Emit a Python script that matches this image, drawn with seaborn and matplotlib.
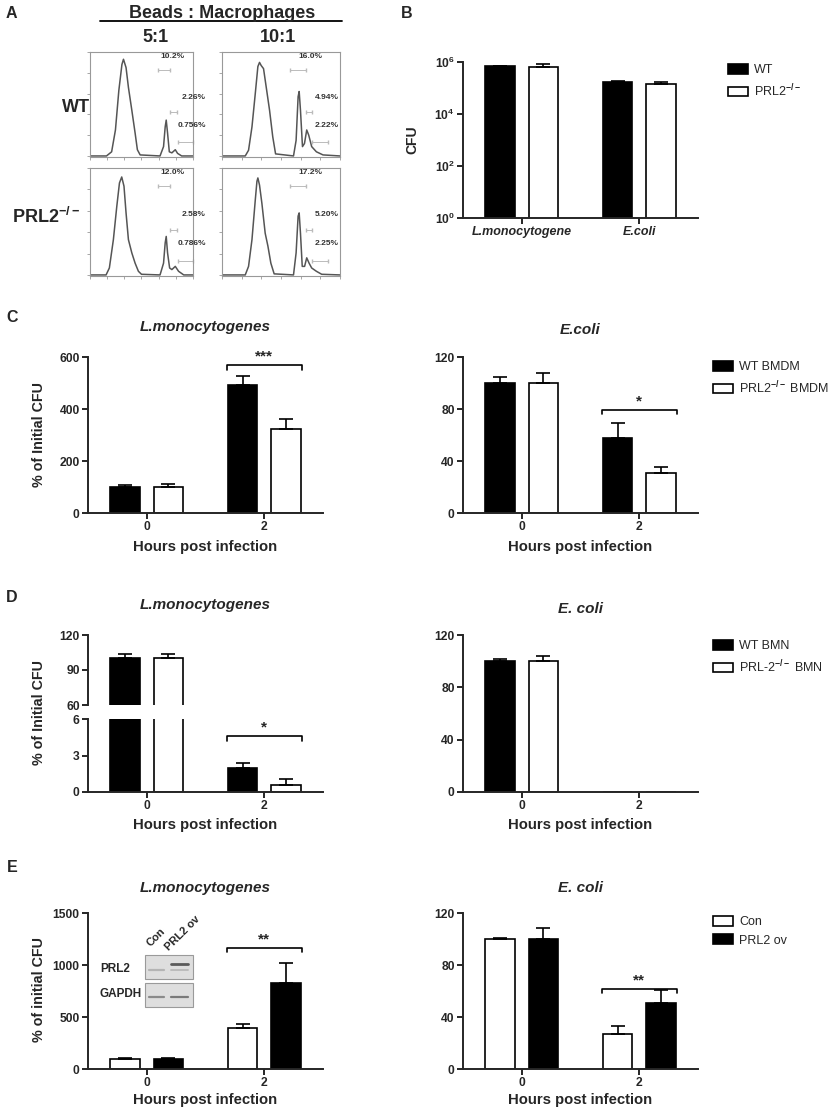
import numpy as np
import pandas as pd
import matplotlib
matplotlib.use("Agg")
import matplotlib.pyplot as plt
from matplotlib.patches import Patch, Rectangle
from matplotlib.lines import Line2D
import seaborn as sns

# A: flow histograms, x = channel (% of box width), y = events (% of box height)
a_wt5_x = [0, 16, 21, 24.7, 28, 31, 32.5, 35, 37.3, 40.6, 43.8, 46, 48.7, 68, 71.4, 73, 74, 75.3, 77, 79.5, 82.8, 85, 89, 100]
a_wt5_y = [0, 0, 4, 25, 63, 88, 93, 85, 66, 44, 22, 6, 1, 0, 9, 28, 34.5, 22, 4, 3, 6, 2.5, 0, 0]
a_wt10_x = [0, 19.7, 22.5, 25.4, 28.2, 30.4, 31.8, 33.2, 35.2, 37.5, 40.3, 43, 45.4, 60.6, 62.8, 64.5, 65.4, 66.5, 68.2, 69.9, 71.8, 73.5, 76, 80, 85.6, 100]
a_wt10_y = [0, 0, 5.5, 28, 60, 86, 90, 87, 84, 66, 44, 18.5, 2, 0, 15, 57, 62, 44, 9, 12, 25, 20, 9, 4, 1, 0]
a_ko5_x = [0, 15.6, 18.8, 22.7, 26, 28.6, 30.8, 33, 35, 37.3, 40.6, 43.8, 47, 50, 68, 71.4, 73, 74, 75.3, 77.3, 79.5, 82.8, 86, 91, 100]
a_ko5_y = [0, 0, 6.5, 33, 64, 86, 91.6, 83, 58, 33, 20.6, 11, 3.4, 0.6, 0, 11, 30, 36, 20.6, 6.5, 5, 8, 3.4, 0, 0]
a_ko10_x = [0, 19.7, 22.5, 25.4, 28.2, 29.6, 30.4, 31.8, 33.8, 36.6, 38.9, 41.4, 44.2, 60.6, 62.8, 64.5, 65.4, 66.5, 68, 70, 71.8, 73.8, 76, 80, 84.5, 100]
a_ko10_y = [0, 0, 8, 33, 70, 87.5, 90.7, 84, 67, 39, 27, 11, 1, 0, 20.6, 55, 58, 39, 8, 8, 16, 11, 6.5, 3.4, 0.6, 0]
a_wt5_pct = ["10.2%", "2.26%", "0.756%"]
a_wt10_pct = ["16.0%", "4.94%", "2.22%"]
a_ko5_pct = ["12.0%", "2.58%", "0.786%"]
a_ko10_pct = ["17.2%", "5.20%", "2.25%"]

# B: CFU
b_species = ["L.monocytogene", "E.coli"]
b_wt = [7.0e5, 1.75e5]
b_wt_err = [2.0e4, 1.5e4]
b_ko = [6.5e5, 1.4e5]
b_ko_err = [1.8e5, 2.6e4]

hours = ["0", "2"]
# C: BMDM
c_lm_wt = [100, 492]
c_lm_wt_err = [8, 35]
c_lm_ko = [100, 323]
c_lm_ko_err = [10, 38]
c_ec_wt = [100, 58]
c_ec_wt_err = [5, 11]
c_ec_ko = [100, 31]
c_ec_ko_err = [8, 4.5]
# D: BMN
d_lm_wt = [100, 2.0]
d_lm_wt_err = [4, 0.4]
d_lm_ko = [100, 0.6]
d_lm_ko_err = [4, 0.5]
d_ec_wt = [100, 0]
d_ec_wt_err = [2, 0]
d_ec_ko = [100, 0]
d_ec_ko_err = [4, 0]
# E: overexpression
e_lm_con = [100, 391]
e_lm_con_err = [10, 40]
e_lm_ov = [100, 824]
e_lm_ov_err = [3, 200]
e_ec_con = [100, 27]
e_ec_con_err = [1, 6]
e_ec_ov = [100, 51]
e_ec_ov_err = [8.5, 10]

sns.set_style("ticks")
plt.rcParams["font.family"] = ["Liberation Sans", "DejaVu Sans"]
plt.rcParams["font.weight"] = "bold"
plt.rcParams["mathtext.fontset"] = "custom"
plt.rcParams["mathtext.rm"] = "Liberation Sans"
plt.rcParams["mathtext.bf"] = "Liberation Sans:bold"
plt.rcParams["mathtext.it"] = "Liberation Sans:italic"

W, H = 829, 1114
fig = plt.figure(figsize=(W / 100, H / 100), dpi=100)


def px_axes(x0, y0, x1, y1):
    return fig.add_axes([x0 / W, 1 - y1 / H, (x1 - x0) / W, (y1 - y0) / H])


def ftext(x, y, s, **kw):
    kw.setdefault("ha", "center")
    kw.setdefault("va", "center")
    fig.text(x / W, 1 - y / H, s, **kw)


def grouped(ax, cats, names, series, errs, colors):
    df = pd.DataFrame({
        "cat": [c for _ in names for c in cats],
        "grp": [n for n in names for _ in cats],
        "val": [v for s in series for v in s],
    })
    sns.barplot(data=df, x="cat", y="val", hue="grp", order=cats, hue_order=names,
                palette=dict(zip(names, colors)), saturation=1, edgecolor="black",
                linewidth=1.2, width=0.74, gap=0.32, errorbar=None, legend=False, ax=ax)
    conts = list(ax.containers[:len(names)])
    for cont, err in zip(conts, errs):
        for bar, e in zip(cont, err):
            if e > 0:
                xc = bar.get_x() + bar.get_width() / 2
                ax.errorbar([xc], [bar.get_height()], yerr=[[0], [e]], fmt="none",
                            ecolor="black", elinewidth=1.2, capsize=5, capthick=1.2)
    return conts


def style(ax, ylim, yticks):
    ax.set_xlim(-0.5, 1.5)
    ax.set_ylim(*ylim)
    ax.set_yticks(yticks)
    ax.set_xlabel("")
    ax.set_ylabel("")
    sns.despine(ax=ax)
    for s in ("left", "bottom"):
        ax.spines[s].set_linewidth(1.4)
    ax.tick_params(width=1.4, length=4, labelsize=8.7, pad=2)


def bracket(ax, conts, i, y, drop, label):
    a, b = conts[0][i], conts[1][i]
    x0 = a.get_x() - 0.01
    x1 = b.get_x() + b.get_width() + 0.01
    ax.plot([x0, x0, x1, x1], [y - drop, y, y, y - drop], color="black", lw=1.2, clip_on=False)
    ax.annotate(label, xy=((x0 + x1) / 2, y), xytext=(0, 1), textcoords="offset points",
                ha="center", va="bottom", fontsize=11)


def legend(x, y, names, colors):
    handles = [Patch(facecolor=c, edgecolor="black", linewidth=1.2, label=n) for n, c in zip(names, colors)]
    fig.legend(handles=handles, loc="upper left", bbox_to_anchor=(x / W, 1 - y / H), frameon=False,
               prop={"weight": "normal", "size": 9}, handlelength=1.6, handleheight=0.8,
               handletextpad=0.5, labelspacing=0.5, borderpad=0, borderaxespad=0)


# ---------- A ----------
hist_boxes = [(90, 52, 193, 157), (222, 52, 340, 157), (90, 168, 193, 276), (222, 168, 340, 276)]
curves = [(a_wt5_x, a_wt5_y), (a_wt10_x, a_wt10_y), (a_ko5_x, a_ko5_y), (a_ko10_x, a_ko10_y)]
pcts = [a_wt5_pct, a_wt10_pct, a_ko5_pct, a_ko10_pct]
label_pos = [[(0.80, 0.96), (1.01, 0.57), (0.985, 0.30)], [(0.75, 0.96), (0.89, 0.57), (0.89, 0.30)]]
gate_pos = [[(0.66, 0.78, 0.83), (0.78, 0.84, 0.43), (0.85, 1.0, 0.14)],
            [(0.58, 0.71, 0.83), (0.71, 0.76, 0.43), (0.76, 0.90, 0.14)]]
for k, (box, (cx, cy), pct) in enumerate(zip(hist_boxes, curves, pcts)):
    ax = px_axes(*box)
    sns.lineplot(x=cx, y=cy, sort=False, estimator=None, color="#555555", linewidth=1.1, ax=ax)
    ax.set_xlim(0, 100)
    ax.set_ylim(-1, 100)
    ax.set_xticks(np.linspace(0, 100, 7))
    ax.set_yticks(np.linspace(0, 100, 6))
    ax.set_xticklabels([])
    ax.set_yticklabels([])
    ax.tick_params(length=2, width=0.6, color="#999999")
    for s in ax.spines.values():
        s.set_color("#999999")
        s.set_linewidth(0.8)
    col = k % 2
    for (tx, ty), t in zip(label_pos[col], pct):
        ax.text(tx, ty, t, transform=ax.transAxes, ha="center", va="center", fontsize=6,
                color="#333333", clip_on=False)
    for gx0, gx1, gy in gate_pos[col]:
        ax.plot([gx0, gx1], [gy, gy], transform=ax.transAxes, color="#bbbbbb", lw=0.7,
                marker="|", ms=3, clip_on=False)

ftext(222, 13, "Beads : Macrophages", fontsize=13)
fig.add_artist(Line2D([100 / W, 342 / W], [1 - 21 / H, 1 - 21 / H], color="black", lw=1.3))
ftext(156, 37, "5:1", fontsize=13)
ftext(278, 37, "10:1", fontsize=13)
ftext(76, 108, "WT", fontsize=13)
ftext(46, 217, r"PRL2$^{\mathbf{-/-}}$", fontsize=13)

for lab, lx, ly in [("A", 11, 13), ("B", 407, 13), ("C", 12, 317), ("D", 12, 597), ("E", 12, 868)]:
    ftext(lx, ly, lab, fontsize=11.5)

# ---------- B ----------
axb = px_axes(463, 62, 698, 218)
grouped(axb, b_species, ["WT", "PRL2"], [b_wt, b_ko], [b_wt_err, b_ko_err], ["black", "white"])
axb.set_yscale("log")
style(axb, (1, 1e6), [1, 1e2, 1e4, 1e6])
axb.minorticks_off()
axb.set_yticklabels([r"$\mathbf{10^{0}}$", r"$\mathbf{10^{2}}$", r"$\mathbf{10^{4}}$", r"$\mathbf{10^{6}}$"])
for l in axb.get_xticklabels():
    l.set_style("italic")
    l.set_fontsize(9)
ftext(412, 140, "CFU", rotation=90, fontsize=10)
legend(728, 64, ["WT", "PRL2$^{-/-}$"], ["black", "white"])

# ---------- C ----------
ax = px_axes(88, 357, 323, 513)
conts = grouped(ax, hours, ["WT", "KO"], [c_lm_wt, c_lm_ko], [c_lm_wt_err, c_lm_ko_err], ["black", "white"])
style(ax, (0, 600), [0, 200, 400, 600])
bracket(ax, conts, 1, 569, 19, "***")
ftext(205.5, 327, "L.monocytogenes", style="italic", fontsize=11)
ftext(39, 435, "% of Initial CFU", rotation=90, fontsize=10.3)
ftext(205.5, 547, "Hours post infection", fontsize=10.7)

ax = px_axes(463, 357, 698, 513)
conts = grouped(ax, hours, ["WT", "KO"], [c_ec_wt, c_ec_ko], [c_ec_wt_err, c_ec_ko_err], ["black", "white"])
style(ax, (0, 120), [0, 40, 80, 120])
bracket(ax, conts, 1, 79, 3, "*")
ftext(580.5, 330, "E.coli", style="italic", fontsize=11)
ftext(580.5, 547, "Hours post infection", fontsize=10.7)
legend(713, 361, ["WT BMDM", "PRL2$^{-/-}$ BMDM"], ["black", "white"])

# ---------- D ----------
ax_top = px_axes(88, 635, 323, 705)
grouped(ax_top, hours, ["WT", "KO"], [d_lm_wt, d_lm_ko], [d_lm_wt_err, d_lm_ko_err], ["black", "white"])
style(ax_top, (60, 120), [60, 90, 120])
ax_top.spines["bottom"].set_visible(False)
ax_top.tick_params(bottom=False, labelbottom=False)
ax_bot = px_axes(88, 719, 323, 792)
conts = grouped(ax_bot, hours, ["WT", "KO"], [d_lm_wt, d_lm_ko], [d_lm_wt_err, d_lm_ko_err], ["black", "white"])
style(ax_bot, (0, 6), [0, 3, 6])
bracket(ax_bot, conts, 1, 4.6, 0.42, "*")
ftext(205.5, 605, "L.monocytogenes", style="italic", fontsize=11)
ftext(39, 713, "% of Initial CFU", rotation=90, fontsize=10.3)
ftext(205.5, 825, "Hours post infection", fontsize=10.7)

ax = px_axes(463, 635, 698, 792)
grouped(ax, hours, ["WT", "KO"], [d_ec_wt, d_ec_ko], [d_ec_wt_err, d_ec_ko_err], ["black", "white"])
style(ax, (0, 120), [0, 40, 80, 120])
ftext(580.5, 609, "E. coli", style="italic", fontsize=11)
ftext(580.5, 825, "Hours post infection", fontsize=10.7)
legend(713, 640, ["WT BMN", "PRL-2$^{-/-}$ BMN"], ["black", "white"])

# ---------- E ----------
ax = px_axes(88, 913, 323, 1069)
conts = grouped(ax, hours, ["Con", "PRL2 ov"], [e_lm_con, e_lm_ov], [e_lm_con_err, e_lm_ov_err], ["white", "black"])
style(ax, (0, 1500), [0, 500, 1000, 1500])
bracket(ax, conts, 1, 1161, 38, "**")
ftext(205.5, 888, "L.monocytogenes", style="italic", fontsize=11)
ftext(39, 990, "% of initial CFU", rotation=90, fontsize=10.3)
ftext(205.5, 1100, "Hours post infection", fontsize=10.7)

# western blot inset
ax_in = px_axes(140, 915, 200, 1012)
ax_in.set_xlim(140, 200)
ax_in.set_ylim(1012, 915)
ax_in.axis("off")
ax_in.add_patch(Rectangle((145, 955), 48, 24, fc="#dedede", ec="#9a9a9a", lw=0.8))
ax_in.add_patch(Rectangle((145, 983), 48, 24, fc="#dedede", ec="#9a9a9a", lw=0.8))
ax_in.plot([149, 164], [970, 970], color="#b4b4b4", lw=1.6)
ax_in.plot([171, 188], [970, 970], color="#bcbcbc", lw=1.4)
ax_in.plot([171, 188], [964, 964], color="#5a5a5a", lw=2.0)
ax_in.plot([149, 164], [997, 997], color="#8a8a8a", lw=1.6)
ax_in.plot([171, 188], [997, 997], color="#7a7a7a", lw=1.6)
ftext(100, 969, "PRL2", ha="left", fontsize=8.5)
ftext(100, 994, "GAPDH", ha="left", fontsize=8.5)
ftext(152, 948, "Con", ha="left", va="bottom", rotation=45, rotation_mode="anchor", fontsize=8)
ftext(170, 952, "PRL2 ov", ha="left", va="bottom", rotation=45, rotation_mode="anchor", fontsize=8)

ax = px_axes(463, 913, 698, 1069)
conts = grouped(ax, hours, ["Con", "PRL2 ov"], [e_ec_con, e_ec_ov], [e_ec_con_err, e_ec_ov_err], ["white", "black"])
style(ax, (0, 120), [0, 40, 80, 120])
bracket(ax, conts, 1, 61.5, 3, "**")
ftext(580.5, 888, "E. coli", style="italic", fontsize=11)
ftext(580.5, 1100, "Hours post infection", fontsize=10.7)
legend(713, 916, ["Con", "PRL2 ov"], ["white", "black"])

fig.savefig("out.png", dpi=100)
